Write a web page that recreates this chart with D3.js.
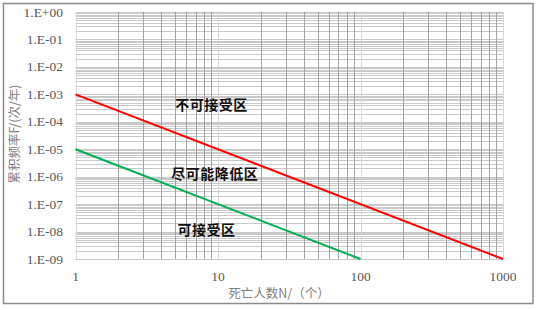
<!DOCTYPE html>
<html lang="zh">
<head>
    <meta charset="UTF-8">
    <title>F-N 曲线</title>
    <script src="https://d3js.org/d3.v7.min.js"></script>
    <style>
        body { margin: 0; background: #fff; }
        svg { display: block; }
        .tick-label { font-family: "Liberation Serif", "DejaVu Serif", serif; font-size: 13.5px; fill: #595959; }
        .axis-title { font-family: "Noto Sans CJK SC", sans-serif; font-size: 12.5px; fill: #7f7f7f; }
        .zone { font-family: "Noto Sans CJK SC", sans-serif; font-size: 14px; font-weight: bold; fill: #111; }
    </style>
</head>
<body>
    <svg width="538" height="310"></svg>

    <script type="text/javascript">
        // data
        const xTicks = [1, 10, 100, 1000];
        const yExps = [0, -1, -2, -3, -4, -5, -6, -7, -8, -9];

        const redN = [1, 1000];
        const redF = [1e-3, 1e-9];
        const greenN = [1, 100];
        const greenF = [1e-5, 1e-9];

        const zoneLabels = ['不可接受区', '尽可能降低区', '可接受区'];
        const zoneN = [9.0, 9.5, 8.3];
        const zoneF = [4e-4, 1.2e-6, 1.1e-8];

        const width = 538;
        const height = 310;
        const margin = { top: 12, right: 35, bottom: 51, left: 75.5 };

        const svg = d3.select('svg');

        // outer frame
        svg.append('rect')
            .attr('x', 3.5).attr('y', 3.5)
            .attr('width', 529.5).attr('height', 300)
            .attr('fill', 'none')
            .attr('stroke', '#8c8c8c')
            .attr('stroke-width', 1.5);

        const x = d3.scaleLog()
            .domain([1, 1000])
            .range([margin.left, width - margin.right]);

        const y = d3.scaleLog()
            .domain([1e-9, 1])
            .range([height - margin.bottom, margin.top]);

        // horizontal grid (major + minor)
        const hLines = [];
        for (let e = -9; e < 0; e++) {
            for (let k = 1; k <= 9; k++) hLines.push(k * Math.pow(10, e));
        }
        hLines.push(1);
        svg.append('g')
            .selectAll('line')
            .data(hLines)
            .join('line')
            .attr('x1', x(1)).attr('x2', x(1000))
            .attr('y1', d => Math.round(y(d)) + 0.5)
            .attr('y2', d => Math.round(y(d)) + 0.5)
            .attr('stroke', '#c9c9c9')
            .attr('stroke-width', 1);

        // vertical grid
        const vLines = [];
        for (let e = 0; e < 3; e++) {
            for (let k = 1; k <= 9; k++) vLines.push(k * Math.pow(10, e));
        }
        vLines.push(1000);
        svg.append('g')
            .selectAll('line')
            .data(vLines)
            .join('line')
            .attr('x1', d => Math.round(x(d)) + 0.5)
            .attr('x2', d => Math.round(x(d)) + 0.5)
            .attr('y1', y(1)).attr('y2', y(1e-9))
            .attr('stroke', d => xTicks.includes(d) ? '#d6d6d6' : '#a3a3a3')
            .attr('stroke-width', 1);

        // tick labels
        const fmt = e => '1.E' + (e < 0 ? '-' : '+') + String(Math.abs(e)).padStart(2, '0');
        svg.append('g')
            .selectAll('text')
            .data(yExps)
            .join('text')
            .attr('class', 'tick-label')
            .attr('x', 63)
            .attr('y', e => y(Math.pow(10, e)) + 4.5)
            .attr('text-anchor', 'end')
            .text(fmt);

        svg.append('g')
            .selectAll('text')
            .data(xTicks)
            .join('text')
            .attr('class', 'tick-label')
            .attr('x', d => x(d))
            .attr('y', 281)
            .attr('text-anchor', 'middle')
            .text(d => d);

        // axis titles
        svg.append('text')
            .attr('class', 'axis-title')
            .attr('transform', 'translate(19,134) rotate(-90)')
            .attr('text-anchor', 'middle')
            .text('累积频率F/(次/年)');

        svg.append('text')
            .attr('class', 'axis-title')
            .attr('x', 279)
            .attr('y', 298)
            .attr('text-anchor', 'middle')
            .text('死亡人数N/（个）');

        // lines
        const line = d3.line()
            .x(d => x(d[0]))
            .y(d => y(d[1]));

        svg.append('path')
            .datum(redN.map((n, i) => [n, redF[i]]))
            .attr('d', line)
            .attr('fill', 'none')
            .attr('stroke', '#ff0000')
            .attr('stroke-width', 2);

        svg.append('path')
            .datum(greenN.map((n, i) => [n, greenF[i]]))
            .attr('d', line)
            .attr('fill', 'none')
            .attr('stroke', '#00b050')
            .attr('stroke-width', 2);

        // zone labels
        svg.append('g')
            .selectAll('text')
            .data(zoneLabels)
            .join('text')
            .attr('class', 'zone')
            .attr('x', (d, i) => x(zoneN[i]))
            .attr('y', (d, i) => y(zoneF[i]) + 5)
            .attr('text-anchor', 'middle')
            .attr('letter-spacing', '0.5px')
            .text(d => d);
    </script>
</body>
</html>
